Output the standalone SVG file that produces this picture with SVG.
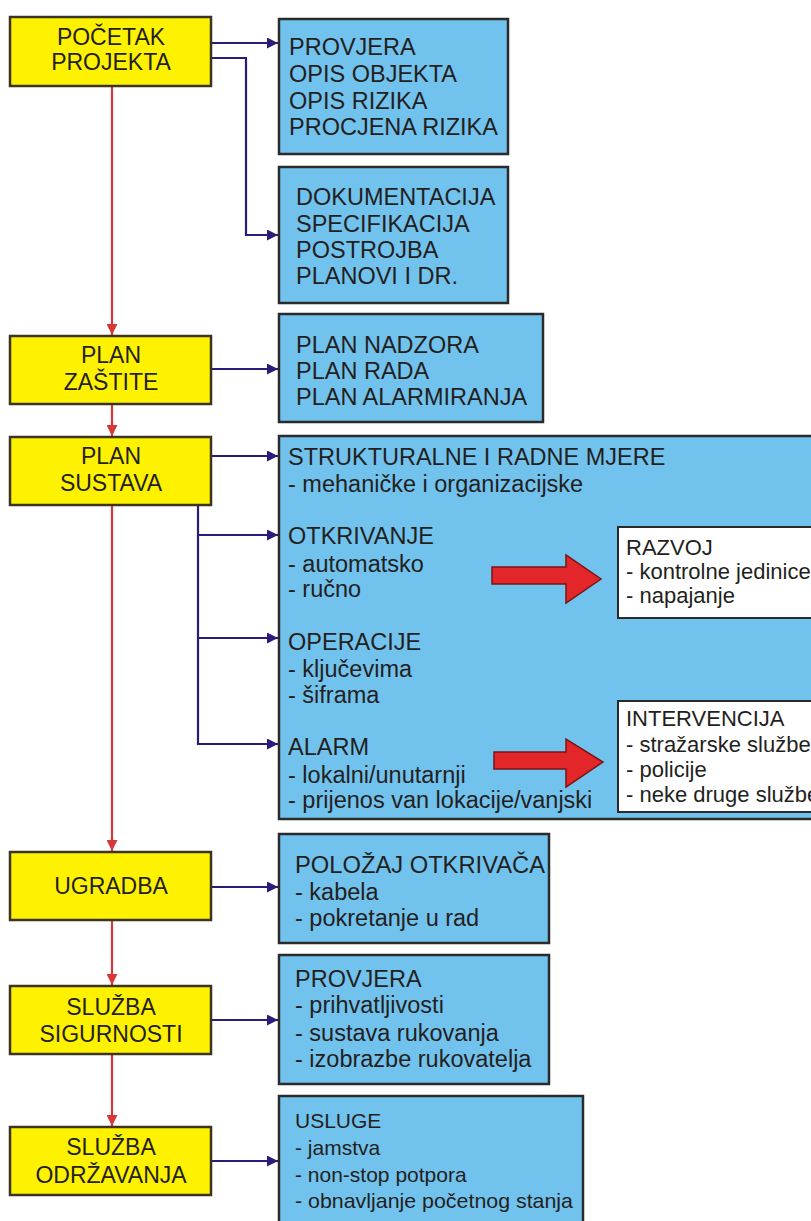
<svg xmlns="http://www.w3.org/2000/svg" width="811" height="1221" viewBox="0 0 811 1221">
<defs>
<style>
.y{fill:#FFF200;stroke:#3b3520;stroke-width:2.5}
.b{fill:#72C2EE;stroke:#2a2a2a;stroke-width:2.5}
.w{fill:#FFFFFF;stroke:#2a2a2a;stroke-width:2}
text{font-family:"Liberation Sans",Arial,sans-serif;fill:#231F20}
.c{font-size:23px;text-anchor:middle}
.t{font-size:23.5px}
.u{font-size:21px}
.s{font-size:22px}
.bl{fill:none;stroke:#2E1A78;stroke-width:2.2}
.rl{fill:none;stroke:#D8373A;stroke-width:2.2}
.ra{fill:#E3262A;stroke:#7A1512;stroke-width:1.5}
</style>
<marker id="ab" viewBox="0 0 10 10" refX="10" refY="5" markerWidth="5" markerHeight="5" markerUnits="strokeWidth" orient="auto"><path d="M0,0 L10,5 L0,10 z" fill="#2E1A78"/></marker>
<marker id="ar" viewBox="0 0 10 10" refX="10" refY="5" markerWidth="5" markerHeight="5" markerUnits="strokeWidth" orient="auto"><path d="M0,0 L10,5 L0,10 z" fill="#D8373A"/></marker>
</defs>
<rect width="811" height="1221" fill="#FFFFFF"/>

<g id="connectors">
<path class="rl" d="M112,86 V335" marker-end="url(#ar)"/>
<path class="rl" d="M112,404 V436" marker-end="url(#ar)"/>
<path class="rl" d="M112,505 V851" marker-end="url(#ar)"/>
<path class="rl" d="M112,920 V985" marker-end="url(#ar)"/>
<path class="rl" d="M112,1054 V1126" marker-end="url(#ar)"/>
<path class="bl" d="M211,43 H278" marker-end="url(#ab)"/>
<path class="bl" d="M211,58 H246 V235 H278" marker-end="url(#ab)"/>
<path class="bl" d="M211,369 H278" marker-end="url(#ab)"/>
<path class="bl" d="M211,456 H278" marker-end="url(#ab)"/>
<path class="bl" d="M198,505 V744 H278" marker-end="url(#ab)"/>
<path class="bl" d="M198,535 H278" marker-end="url(#ab)"/>
<path class="bl" d="M198,638 H278" marker-end="url(#ab)"/>
<path class="bl" d="M211,887 H278" marker-end="url(#ab)"/>
<path class="bl" d="M211,1020 H278" marker-end="url(#ab)"/>
<path class="bl" d="M211,1161 H278" marker-end="url(#ab)"/>
</g>

<g id="pocetak">
<rect class="y" x="10" y="17" width="201" height="69"/>
<text class="c" x="111" y="45">POČETAK</text>
<text class="c" x="111" y="70">PROJEKTA</text>
</g>
<g id="provjera1">
<rect class="b" x="279" y="19" width="229" height="135"/>
<text class="t" x="289" y="55">PROVJERA</text>
<text class="t" x="289" y="82">OPIS OBJEKTA</text>
<text class="t" x="289" y="109">OPIS RIZIKA</text>
<text class="t" x="289" y="135">PROCJENA RIZIKA</text>
</g>
<g id="dokumentacija">
<rect class="b" x="279" y="167" width="229" height="136"/>
<text class="t" x="296" y="205">DOKUMENTACIJA</text>
<text class="t" x="296" y="232">SPECIFIKACIJA</text>
<text class="t" x="296" y="258">POSTROJBA</text>
<text class="t" x="296" y="284">PLANOVI I DR.</text>
</g>
<g id="plan-zastite">
<rect class="y" x="10" y="336" width="201" height="68"/>
<text class="c" x="111" y="363">PLAN</text>
<text class="c" x="111" y="390">ZAŠTITE</text>
</g>
<g id="plan-nadzora">
<rect class="b" x="279" y="314" width="264" height="108"/>
<text class="t" x="296" y="353">PLAN NADZORA</text>
<text class="t" x="296" y="379">PLAN RADA</text>
<text class="t" x="296" y="405">PLAN ALARMIRANJA</text>
</g>
<g id="plan-sustava">
<rect class="y" x="10" y="437" width="201" height="68"/>
<text class="c" x="111" y="464">PLAN</text>
<text class="c" x="111" y="491">SUSTAVA</text>
</g>
<g id="sustav-detalji">
<rect class="b" x="279" y="436" width="545" height="383"/>
<text class="t" x="288" y="465">STRUKTURALNE I RADNE MJERE</text>
<text class="t" x="288" y="492">- mehaničke i organizacijske</text>
<text class="t" x="288" y="544">OTKRIVANJE</text>
<text class="t" x="288" y="572">- automatsko</text>
<text class="t" x="288" y="597">- ručno</text>
<text class="t" x="288" y="650">OPERACIJE</text>
<text class="t" x="288" y="677">- ključevima</text>
<text class="t" x="288" y="703">- šiframa</text>
<text class="t" x="288" y="755">ALARM</text>
<text class="t" x="288" y="783">- lokalni/unutarnji</text>
<text class="t" x="288" y="808">- prijenos van lokacije/vanjski</text>
</g>
<g id="strelice">
<path class="ra" d="M492,567 H566 V555 L601,579 L566,603 V584 H492 Z"/>
<path class="ra" d="M494,752 H566 V739 L603,762 L566,787 V769 H494 Z"/>
</g>
<g id="razvoj">
<rect class="w" x="618" y="527" width="210" height="91"/>
<text class="s" x="626" y="555">RAZVOJ</text>
<text class="s" x="626" y="579">- kontrolne jedinice</text>
<text class="s" x="626" y="603">- napajanje</text>
</g>
<g id="intervencija">
<rect class="w" x="618" y="701" width="210" height="111"/>
<text class="s" x="626" y="726">INTERVENCIJA</text>
<text class="s" x="626" y="752">- stražarske službe</text>
<text class="s" x="626" y="777">- policije</text>
<text class="s" x="626" y="802">- neke druge službe</text>
</g>
<g id="ugradba">
<rect class="y" x="10" y="852" width="201" height="68"/>
<text class="c" x="111" y="894">UGRADBA</text>
</g>
<g id="polozaj">
<rect class="b" x="279" y="834" width="270" height="109"/>
<text class="t" x="295" y="873" textLength="250" lengthAdjust="spacingAndGlyphs">POLOŽAJ OTKRIVAČA</text>
<text class="t" x="295" y="900">- kabela</text>
<text class="t" x="295" y="926">- pokretanje u rad</text>
</g>
<g id="sluzba-sigurnosti">
<rect class="y" x="10" y="986" width="201" height="68"/>
<text class="c" x="111" y="1015">SLUŽBA</text>
<text class="c" x="111" y="1042">SIGURNOSTI</text>
</g>
<g id="provjera2">
<rect class="b" x="279" y="955" width="270" height="129"/>
<text class="t" x="295" y="987">PROVJERA</text>
<text class="t" x="295" y="1013">- prihvatljivosti</text>
<text class="t" x="295" y="1041">- sustava rukovanja</text>
<text class="t" x="295" y="1067">- izobrazbe rukovatelja</text>
</g>
<g id="sluzba-odrzavanja">
<rect class="y" x="10" y="1127" width="201" height="68"/>
<text class="c" x="111" y="1155">SLUŽBA</text>
<text class="c" x="111" y="1183">ODRŽAVANJA</text>
</g>
<g id="usluge">
<rect class="b" x="279" y="1096" width="304" height="130"/>
<text class="u" x="295" y="1128">USLUGE</text>
<text class="u" x="295" y="1155">- jamstva</text>
<text class="u" x="295" y="1182">- non-stop potpora</text>
<text class="u" x="295" y="1208" textLength="278" lengthAdjust="spacingAndGlyphs">- obnavljanje početnog stanja</text>
</g>
</svg>
